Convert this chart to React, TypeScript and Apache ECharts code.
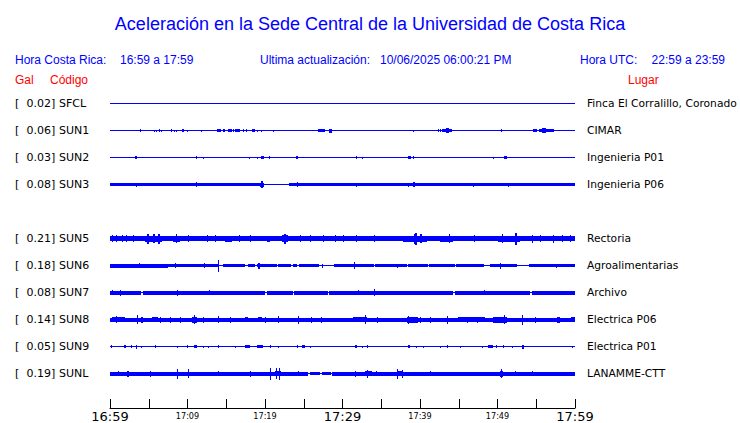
import React, { useEffect, useRef } from 'react';
import * as echarts from 'echarts';

const codes = ['SFCL', 'SUN1', 'SUN2', 'SUN3', '', 'SUN5', 'SUN6', 'SUN7', 'SUN8', 'SUN9', 'SUNL'];
const peakGal: (number | null)[] = [0.02, 0.06, 0.03, 0.08, null, 0.21, 0.18, 0.08, 0.14, 0.05, 0.19];
const places = ['Finca El Corralillo, Coronado', 'CIMAR', 'Ingenieria P01', 'Ingenieria P06', '', 'Rectoria', 'Agroalimentarias', 'Archivo', 'Electrica P06', 'Electrica P01', 'LANAMME-CTT'];
const tickLabels = ['16:59', '', '17:09', '', '17:19', '', '17:29', '', '17:39', '', '17:49', '', '17:59'];
const bigTicks = ['16:59', '17:29', '17:59'];

// Each block: [start minute, end minute, half amplitude (Gal)]
const sfcl = [[0, 60, 0.015]];
const sun1 = [[0, 60, 0.015], [3.9, 4.0, 0.044], [5.7, 5.8, 0.03], [5.9, 6.0, 0.03], [6.3, 6.4, 0.044], [6.6, 6.7, 0.03], [7.9, 8.0, 0.044], [8.2, 8.3, 0.03], [8.5, 8.6, 0.03], [9.3, 9.6, 0.044], [9.9, 10.0, 0.03], [11.7, 11.8, 0.03], [13.8, 14.3, 0.044], [14.6, 14.9, 0.044], [15.2, 15.7, 0.044], [15.9, 16.0, 0.044], [16.1, 16.2, 0.044], [16.3, 16.8, 0.044], [17.1, 17.3, 0.044], [17.5, 17.6, 0.044], [18.3, 18.7, 0.044], [19.0, 19.1, 0.03], [19.5, 19.6, 0.03], [21.0, 21.1, 0.03], [26.8, 27.7, 0.044], [28.3, 28.6, 0.059], [39.1, 39.2, 0.03], [42.3, 42.4, 0.044], [42.6, 42.7, 0.044], [42.8, 44.1, 0.044], [43.4, 43.7, 0.074], [50.5, 50.6, 0.044], [54.6, 54.8, 0.044], [54.9, 55.1, 0.044], [55.4, 57.0, 0.044], [55.8, 56.2, 0.074], [57.0, 57.3, 0.044]];
const sun2 = [[0, 60, 0.015], [3.2, 3.5, 0.044], [11.1, 11.2, 0.044], [12.0, 12.1, 0.03], [17.9, 18.0, 0.03], [19.0, 19.1, 0.03], [19.5, 19.9, 0.044], [20.5, 20.6, 0.044], [24.0, 24.3, 0.044], [31.8, 31.9, 0.044], [32.5, 32.6, 0.03], [38.5, 38.8, 0.044], [39.1, 39.2, 0.044], [49.4, 49.5, 0.03], [50.8, 51.2, 0.044]];
const sun3 = [[0, 60, 0.015], [0, 19.9, 0.044], [23.1, 60, 0.044], [3.4, 3.5, 0.059], [11.1, 11.2, 0.074], [19.3, 19.9, 0.059], [19.5, 19.7, 0.104], [24.1, 24.2, 0.074], [31.8, 31.9, 0.059], [38.5, 38.6, 0.059], [39.1, 39.3, 0.074], [46.9, 47.0, 0.059], [51.4, 51.5, 0.059]];
const sun4: number[][] = [];
const sun5 = [[0, 60, 0.074], [0.2, 0.3, 0.104], [0.8, 0.9, 0.104], [1.5, 1.6, 0.104], [2.1, 2.2, 0.104], [3.0, 3.1, 0.104], [4.5, 6.7, 0.089], [4.8, 5.0, 0.148], [5.6, 5.8, 0.133], [6.2, 6.4, 0.148], [8.1, 9.0, 0.089], [8.5, 8.6, 0.133], [10.1, 10.2, 0.104], [12.5, 12.6, 0.104], [13.6, 13.7, 0.104], [14.8, 15.7, 0.089], [16.6, 16.7, 0.104], [18.0, 18.1, 0.104], [20.3, 20.7, 0.089], [22.2, 23.0, 0.104], [22.5, 22.7, 0.148], [24.5, 24.6, 0.104], [25.8, 25.9, 0.104], [27.5, 27.6, 0.104], [29.0, 29.1, 0.104], [30.0, 30.1, 0.104], [31.8, 31.9, 0.104], [34.0, 34.1, 0.104], [37.8, 40.9, 0.089], [39.2, 39.3, 0.148], [39.4, 39.6, 0.178], [40.0, 40.2, 0.133], [42.6, 44.3, 0.089], [43.8, 43.9, 0.133], [47.0, 47.1, 0.104], [50.0, 52.9, 0.089], [50.6, 50.7, 0.133], [52.3, 52.5, 0.178], [54.5, 54.6, 0.119], [55.5, 55.6, 0.104], [57.2, 57.3, 0.119], [58.3, 58.4, 0.104], [59.4, 59.5, 0.104]];
const sun6 = [[0, 60, 0.015], [0, 7.5, 0.059], [7.5, 13.9, 0.044], [14.6, 17.4, 0.044], [17.8, 18.7, 0.044], [19.0, 21.5, 0.044], [21.7, 23.4, 0.044], [23.6, 24.1, 0.044], [24.4, 27.0, 0.044], [28.9, 34.0, 0.044], [34.2, 38.3, 0.044], [38.5, 41.0, 0.044], [41.2, 44.5, 0.044], [44.7, 48.2, 0.044], [49.0, 52.5, 0.044], [54.0, 60, 0.044], [3.7, 3.8, 0.074], [8.4, 8.5, 0.074], [12.1, 12.2, 0.074], [13.95, 14.05, 0.178], [19.1, 19.4, 0.089], [27.4, 27.5, 0.059], [31.5, 31.6, 0.104], [37.0, 37.1, 0.059], [50.3, 50.4, 0.089], [57.5, 57.6, 0.059]];
const sun7 = [[0, 60, 0.015], [0, 4.0, 0.052], [4.3, 20.0, 0.052], [20.3, 23.6, 0.052], [23.8, 28.1, 0.052], [28.3, 44.2, 0.052], [44.5, 54.2, 0.052], [54.4, 60, 0.052], [0.3, 0.4, 0.074], [1.3, 1.4, 0.089], [2.3, 2.4, 0.059], [8.6, 8.7, 0.089], [9.2, 9.3, 0.059], [12.8, 12.9, 0.074], [16.4, 16.5, 0.059], [32.0, 32.1, 0.074], [34.0, 34.1, 0.104], [46.9, 47.0, 0.059], [48.3, 48.4, 0.074], [50.8, 50.9, 0.059], [58.5, 58.6, 0.059]];
const sun8 = [[0, 60, 0.066], [0.3, 1.9, 0.078], [0.8, 0.9, 0.104], [3.5, 3.6, 0.133], [4.0, 4.3, 0.089], [5.4, 6.2, 0.078], [6.5, 6.6, 0.089], [7.8, 7.9, 0.089], [9.0, 9.1, 0.089], [10.6, 11.2, 0.085], [10.9, 11.0, 0.133], [12.0, 12.1, 0.089], [13.9, 14.0, 0.104], [15.5, 15.6, 0.089], [17.4, 17.8, 0.078], [19.1, 19.6, 0.078], [20.0, 20.1, 0.089], [21.7, 21.8, 0.104], [24.3, 24.4, 0.119], [25.9, 26.0, 0.089], [27.2, 27.3, 0.089], [31.4, 33.2, 0.078], [32.9, 33.0, 0.133], [34.5, 34.6, 0.089], [38.3, 39.7, 0.085], [38.5, 38.6, 0.119], [40.0, 40.1, 0.089], [41.3, 41.4, 0.089], [43.5, 43.6, 0.119], [44.9, 48.4, 0.074], [46.0, 46.1, 0.089], [47.3, 47.4, 0.089], [49.4, 51.2, 0.085], [50.8, 50.9, 0.133], [53.2, 53.3, 0.148], [54.8, 54.9, 0.089], [57.7, 58.1, 0.089], [59.5, 60, 0.078]];
const sun9 = [[0, 60, 0.015], [0.1, 0.2, 0.044], [1.8, 2.0, 0.044], [2.7, 2.8, 0.044], [3.4, 3.5, 0.052], [4.0, 4.1, 0.03], [5.8, 5.9, 0.044], [8.6, 8.7, 0.03], [9.9, 10.0, 0.044], [10.8, 11.2, 0.044], [12.0, 12.1, 0.03], [12.6, 12.7, 0.03], [13.9, 14.0, 0.044], [16.1, 16.2, 0.03], [17.4, 18.1, 0.044], [19.0, 19.7, 0.044], [20.6, 20.7, 0.044], [21.7, 21.8, 0.03], [24.1, 24.2, 0.044], [24.8, 25.2, 0.044], [25.8, 25.9, 0.03], [31.6, 31.9, 0.044], [32.5, 32.6, 0.03], [33.2, 33.3, 0.044], [38.5, 38.7, 0.044], [39.5, 39.6, 0.03], [40.4, 40.5, 0.03], [42.6, 42.7, 0.03], [43.5, 43.6, 0.044], [45.2, 45.3, 0.03], [48.0, 48.1, 0.03], [48.8, 49.4, 0.044], [49.8, 49.9, 0.044], [50.7, 50.8, 0.044], [51.9, 52.0, 0.03], [53.2, 53.4, 0.052], [59.6, 59.7, 0.03]];
const sunl = [[0, 60, 0.015], [0, 25.6, 0.052], [25.8, 27.1, 0.044], [27.4, 28.5, 0.044], [28.7, 60, 0.052], [1.0, 1.1, 0.074], [1.9, 2.8, 0.066], [2.2, 2.4, 0.089], [5.2, 5.3, 0.089], [8.7, 8.8, 0.148], [10.1, 10.2, 0.133], [12.3, 12.7, 0.066], [13.9, 14.0, 0.074], [17.7, 18.5, 0.066], [18.1, 18.2, 0.089], [20.6, 20.7, 0.178], [21.3, 22.0, 0.074], [21.4, 21.5, 0.163], [21.8, 21.9, 0.178], [22.6, 23.0, 0.066], [24.2, 24.3, 0.074], [30.0, 32.3, 0.062], [31.6, 31.7, 0.089], [32.9, 33.8, 0.074], [33.2, 33.3, 0.119], [34.3, 34.4, 0.074], [37.0, 37.1, 0.148], [37.2, 37.7, 0.074], [37.7, 37.8, 0.119], [41.3, 41.4, 0.074], [47.0, 47.1, 0.059], [50.3, 50.7, 0.089], [50.4, 50.5, 0.133], [52.3, 52.4, 0.074], [54.4, 54.5, 0.074], [57.6, 57.7, 0.059], [59.4, 59.5, 0.059]];

const traces = [sfcl, sun1, sun2, sun3, sun4, sun5, sun6, sun7, sun8, sun9, sunl];

const ROW = 0.8; // Gal between trace baselines
const BLUE = '#0000ff';
const RED = '#ff0000';

export default function App() {
  const ref = useRef<HTMLDivElement>(null);
  useEffect(() => {
    if (!ref.current) return;
    const chart = echarts.init(ref.current, undefined, { renderer: 'svg' });
    const data: number[][] = [];
    traces.forEach((blocks, i) => blocks.forEach((b) => data.push([i, b[0], b[1], b[2]])));
    const n = codes.length;
    const headFont = { fontFamily: 'Liberation Sans', fontSize: 12 };
    const gridBase = { left: 110, width: 465, containLabel: false, outerBoundsMode: 'none' };
    chart.setOption({
      animation: false,
      backgroundColor: '#ffffff',
      title: {
        text: 'Aceleración en la Sede Central de la Universidad de Costa Rica',
        left: 'center',
        top: 10,
        textStyle: { fontFamily: 'Liberation Sans', fontSize: 18, fontWeight: 'normal', color: BLUE },
      },
      graphic: [
        { type: 'text', left: 15, top: 54, style: { text: 'Hora Costa Rica:', fill: BLUE, ...headFont } },
        { type: 'text', left: 120, top: 54, style: { text: '16:59 a 17:59', fill: BLUE, ...headFont } },
        { type: 'text', left: 260, top: 54, style: { text: 'Ultima actualización:', fill: BLUE, ...headFont } },
        { type: 'text', left: 380, top: 54, style: { text: '10/06/2025 06:00:21 PM', fill: BLUE, ...headFont } },
        { type: 'text', left: 580, top: 54, style: { text: 'Hora UTC:', fill: BLUE, ...headFont } },
        { type: 'text', right: 15, top: 54, style: { text: '22:59 a 23:59', fill: BLUE, ...headFont } },
        { type: 'text', left: 15, top: 74, style: { text: 'Gal', fill: RED, ...headFont } },
        { type: 'text', left: 50, top: 74, style: { text: 'Código', fill: RED, ...headFont } },
        { type: 'text', left: 628, top: 74, style: { text: 'Lugar', fill: RED, ...headFont } },
      ],
      grid: [
        { ...gridBase, top: 90, height: 297 },
        { ...gridBase, top: 90, height: 297 },
        { ...gridBase, top: 398, height: 10 },
      ],
      xAxis: [
        { gridIndex: 0, type: 'value', min: 0, max: 60, show: false },
        { gridIndex: 1, type: 'value', min: 0, max: 60, show: false },
        {
          gridIndex: 2, type: 'value', min: 0, max: 60, interval: 5,
          axisLine: { lineStyle: { color: '#000', width: 1 } },
          axisTick: { inside: true, length: 9, lineStyle: { color: '#000' } },
          splitLine: { show: false },
          axisLabel: {
            margin: 2,
            hideOverlap: false,
            showMinLabel: true,
            showMaxLabel: true,
            formatter: (v: number) => {
              const t = tickLabels[Math.round(v / 5)] || '';
              if (!t) return '';
              return bigTicks.includes(t) ? `{big|${t}}` : `{small|${t}}`;
            },
            rich: {
              big: { fontFamily: 'DejaVu Sans', fontSize: 13, lineHeight: 12, color: '#000' },
              small: { fontFamily: 'DejaVu Sans Condensed', fontSize: 9, lineHeight: 10, color: '#000', padding: [1, 0, 0, 0] },
            },
          },
        },
      ],
      yAxis: [
        { gridIndex: 0, type: 'value', min: -ROW / 2, max: ROW * (n - 0.5), inverse: true, show: false },
        {
          gridIndex: 1, type: 'category', data: codes, inverse: true, position: 'left',
          axisLine: { show: false }, axisTick: { show: false },
          axisLabel: {
            align: 'left', margin: 95, interval: 0,
            formatter: (v: string, i: number) => {
              const g = peakGal[i];
              if (g == null) return '';
              return `{b|[}{v|${g.toFixed(2)}]}{c|${v}}`;
            },
            rich: {
              b: { width: 12, fontFamily: 'DejaVu Sans', fontSize: 11, color: '#000' },
              v: { width: 28, align: 'right', fontFamily: 'DejaVu Sans', fontSize: 11, color: '#000' },
              c: { padding: [0, 0, 0, 4], fontFamily: 'DejaVu Sans', fontSize: 11, color: '#000' },
            },
          },
        },
        {
          gridIndex: 1, type: 'category', data: places, inverse: true, position: 'right',
          axisLine: { show: false }, axisTick: { show: false },
          axisLabel: { margin: 12, align: 'left', interval: 0, fontFamily: 'DejaVu Sans', fontSize: 10.7, color: '#000' },
        },
        { gridIndex: 2, type: 'value', show: false },
      ],
      series: [
        {
          type: 'custom',
          xAxisIndex: 0,
          yAxisIndex: 0,
          data,
          renderItem: (params: any, api: any) => {
            const row = api.value(0);
            const t0 = api.value(1);
            const t1 = api.value(2);
            const a = api.value(3);
            const yc = row * ROW;
            const pa = api.coord([t0, yc]);
            const pb = api.coord([t1, yc]);
            const half = Math.abs(api.size([0, a])[1]);
            const h = Math.max(1, Math.round(2 * half));
            const y0 = Math.round(pa[1] - h / 2);
            const x0 = Math.round(pa[0]);
            const x1 = Math.max(x0 + 1, Math.round(pb[0]));
            return {
              type: 'rect',
              shape: { x: x0, y: y0, width: x1 - x0, height: h },
              style: { fill: BLUE },
            };
          },
        },
      ],
    });
    return () => chart.dispose();
  }, []);
  return <div ref={ref} style={{ position: 'fixed', left: 0, top: 0, width: 740, height: 423 }} />;
}
